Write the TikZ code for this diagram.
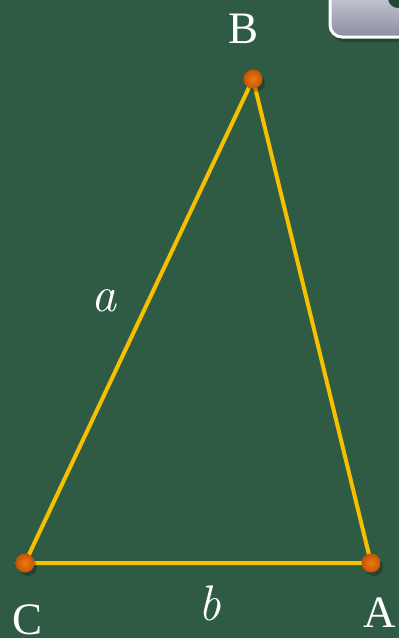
\documentclass[tikz,border=0pt]{standalone}
\usepackage{fontspec}
\newfontfamily\capfont{Liberation Serif}
\definecolor{bg}{HTML}{2F5B44}
\definecolor{bgdark}{HTML}{26493A}
\definecolor{edge}{HTML}{F6C000}
\definecolor{dotA}{HTML}{F07A12}
\definecolor{dotB}{HTML}{C45400}
\definecolor{boxtop}{HTML}{DCDCE2}
\definecolor{boxmid}{HTML}{8C8EA2}
\tikzset{
  side/.style={draw=edge, line width=4pt, line cap=round},
  vert/.style={circle, inner sep=0pt, minimum width=19pt, minimum height=18pt,
    inner color=dotA, outer color=dotB},
  vshadow/.style={circle, inner sep=0pt, minimum size=18pt, fill=black, opacity=0.25},
  lab/.style={text=white, font=\capfont\fontsize{45}{45}\selectfont, inner sep=0pt},
  mlab/.style={text=white, font=\fontsize{50}{50}\selectfont\itshape, inner sep=0pt},
}
\begin{document}
\begin{tikzpicture}[x=1pt,y=-1pt]
\useasboundingbox (0,0) rectangle (399,638);
\fill[bg] (0,0) rectangle (399,638);
% corner widget
\fill[black, opacity=0.25, rounded corners=13pt] (332,-20) rectangle (420,42);
\shade[top color=boxtop, bottom color=boxmid, draw=white, line width=3pt, rounded corners=12pt]
  (330,-20) rectangle (420,37);
\fill[bg!80!black] (398,-2) circle (10);
% vertices
\coordinate (Bp) at (253,79);
\coordinate (Cp) at (25,563);
\coordinate (Ap) at (371,563);
\draw[side] (Bp) -- (Cp) -- (Ap) -- cycle;
\node[vshadow] at (256,83) {};
\node[vshadow] at (28,567) {};
\node[vshadow] at (374,567) {};
\node[vert] (B) at (Bp) {};
\node[vert] (C) at (Cp) {};
\node[vert] (A) at (Ap) {};
% labels
\node[lab] (lB) at (244,29) {B};
\node[lab] (lC) at (28,620) {C};
\node[lab] (lA) at (380,613) {A};
\node[mlab] (la) at (104,301) {a};
\node[mlab] (lb) at (210,603) {b};
\end{tikzpicture}
\end{document}
